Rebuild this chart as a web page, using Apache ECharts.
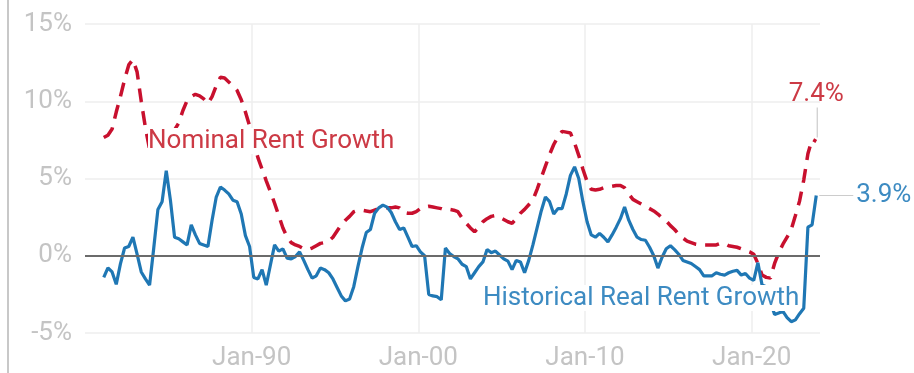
<!DOCTYPE html>
<html>
<head>
<meta charset="utf-8">
<script src="https://cdn.jsdelivr.net/npm/echarts@6/dist/echarts.min.js"></script>
<style>
  html, body { margin: 0; padding: 0; background: #fff; }
  #chart { width: 914px; height: 373px; }
</style>
</head>
<body>
<div id="chart"></div>
<script>
// Quarterly year-over-year rent growth, Q1 1981 – Q4 2023 (percent)
const firstYear = 1981;

const nominalRentGrowth = [
  7.65, 7.8, 8.2, 9.3, 10.3, 11.4, 12.35, 12.7, 11.9, 10.0,
  8.3, 6.9, 6.65, 7.0, 7.4, 7.7, 7.95, 8.15, 8.6, 9.4,
  10.05, 10.3, 10.45, 10.35, 10.15, 9.85, 10.3, 11.0, 11.55, 11.5,
  11.25, 11.0, 10.7, 10.1, 9.3, 8.4, 7.35, 6.35, 5.6, 4.85,
  4.15, 3.4, 2.6, 1.8, 1.2, 0.85, 0.7, 0.6, 0.45, 0.4,
  0.5, 0.65, 0.8, 0.85, 0.95, 1.2, 1.6, 2.0, 2.3, 2.55,
  2.85, 2.95, 2.95, 2.9, 2.85, 2.95, 3.05, 3.1, 3.1, 3.1,
  3.15, 3.1, 2.8, 2.75, 2.75, 2.85, 3.05, 3.15, 3.2, 3.15,
  3.1, 3.05, 2.95, 3.0, 2.95, 2.85, 2.45, 2.1, 1.8, 1.55,
  1.85, 2.2, 2.4, 2.55, 2.6, 2.5, 2.35, 2.2, 2.1, 2.4,
  2.75, 3.0, 3.3, 3.6, 4.3, 5.05, 5.8, 6.55, 7.2, 7.7,
  8.05, 8.0, 7.95, 7.3, 6.5, 5.6, 4.8, 4.3, 4.25, 4.3,
  4.4, 4.45, 4.5, 4.55, 4.55, 4.4, 4.0, 3.65, 3.5, 3.35,
  3.2, 3.05, 2.9, 2.7, 2.45, 2.25, 1.95, 1.7, 1.4, 1.15,
  0.95, 0.85, 0.75, 0.7, 0.7, 0.7, 0.7, 0.7, 0.8, 0.8,
  0.65, 0.6, 0.55, 0.45, 0.35, 0.25, 0.1, -0.5, -1.25, -1.4,
  -1.45, -0.5, 0.2, 0.75, 1.2, 1.7, 2.6, 3.55, 4.9, 6.6,
  7.55, 7.4
];

const realRentGrowth = [
  -1.4, -0.78, -1.05, -1.85, -0.53, 0.5, 0.6, 1.2, 0.1, -1.05,
  -1.5, -1.9, 0.5, 3.0, 3.5, 5.5, 3.6, 1.2, 1.1, 0.9,
  0.7, 2.0, 1.35, 0.8, 0.7, 0.6, 2.3, 3.8, 4.45, 4.25,
  4.0, 3.6, 3.5, 2.7, 1.3, 0.6, -1.4, -1.5, -0.9, -1.9,
  -0.6, 0.7, 0.3, 0.45, -0.15, -0.2, -0.05, 0.25, -0.3, -0.9,
  -1.45, -1.3, -0.8, -0.9, -1.1, -1.5, -2.05, -2.6, -2.92, -2.8,
  -2.0, -0.7, 0.5, 1.5, 1.7, 2.75, 3.1, 3.28, 3.15, 2.8,
  2.2, 1.7, 1.8, 1.2, 0.6, 0.65, 0.25, 0.0, -2.5, -2.6,
  -2.65, -2.85, 0.5, 0.15, -0.05, -0.2, -0.55, -0.7, -1.5, -1.1,
  -0.7, -0.4, 0.4, 0.2, 0.3, 0.05, -0.2, -0.35, -0.9, -0.3,
  -0.4, -1.1, -0.3, 0.7, 1.8, 2.9, 3.8, 3.5, 2.7, 3.05,
  3.05, 4.0, 5.2, 5.75, 5.0, 3.5, 2.2, 1.35, 1.2, 1.45,
  1.2, 0.9, 1.35, 1.85, 2.4, 3.15, 2.3, 1.7, 1.2, 1.05,
  1.0, 0.55, 0.0, -0.8, -0.1, 0.45, 0.65, 0.4, 0.1, -0.3,
  -0.4, -0.5, -0.7, -0.9, -1.3, -1.3, -1.3, -1.1, -1.2, -1.25,
  -1.1, -1.0, -0.95, -1.25, -1.15, -1.45, -1.6, -0.45, -1.9, -2.0,
  -3.0, -3.8, -3.7, -3.6, -4.0, -4.27, -4.15, -3.75, -3.4, 1.85,
  2.0, 3.9
];

const yTicks = [-5, 0, 5, 10, 15];
const seriesNames = ['Nominal Rent Growth', 'Historical Real Rent Growth'];

const RED = '#c8102e';
const BLUE = '#1f77b4';
const RED_TEXT = '#cc3a45';
const BLUE_TEXT = '#3d8bc2';
const LEADER = '#cccccc';
const FONT = 'Roboto, "Noto Sans", sans-serif';
const FONT_SIZE = 26;

// Quarter positions on a decimal-year axis (mid-quarter)
function quarterPosition(i) {
  const year = firstYear + Math.floor(i / 4);
  const q = (i % 4) + 1;
  return year + (q - 0.5) / 4;
}

function toPoints(values) {
  return values.map((v, i) => [quarterPosition(i), v]);
}

function withEndLabel(values, labelOpts) {
  const pts = toPoints(values);
  const last = pts.length - 1;
  return pts.map((p, i) => i === last ? { value: p, label: labelOpts } : p);
}

const nominalPts = toPoints(nominalRentGrowth);
const realPts = toPoints(realRentGrowth);
const nominalEnd = nominalPts[nominalPts.length - 1];
const realEnd = realPts[realPts.length - 1];

const chart = echarts.init(document.getElementById('chart'), null, { renderer: 'canvas' });

const baseGraphics = [
  {
    id: 'frame',
    type: 'rect',
    z: 100,
    shape: { x: 7, y: 0, width: 2, height: 373 },
    style: { fill: '#c8c8c8' }
  },
  {
    id: 'nominalName',
    type: 'text',
    z: 100,
    x: 148,
    y: 141,
    style: {
      text: seriesNames[0],
      fill: RED_TEXT,
      font: FONT_SIZE + 'px ' + FONT,
      verticalAlign: 'middle',
      backgroundColor: '#fff'
    }
  },
  {
    id: 'realName',
    type: 'text',
    z: 100,
    x: 483,
    y: 298,
    style: {
      text: seriesNames[1],
      fill: BLUE_TEXT,
      font: FONT_SIZE + 'px ' + FONT,
      verticalAlign: 'middle',
      backgroundColor: '#fff'
    }
  }
];

chart.setOption({
  animation: false,
  backgroundColor: '#fff',
  grid: { left: 85, right: 94, top: 24, bottom: 40, containLabel: false },
  xAxis: {
    type: 'value',
    min: 1980,
    max: 2024.1,
    interval: 10,
    axisLine: { show: false },
    axisTick: { show: false },
    axisLabel: {
      showMinLabel: false,
      showMaxLabel: false,
      color: '#c4c4c4',
      fontFamily: FONT,
      fontSize: FONT_SIZE,
      margin: 12,
      formatter: v => (v % 10 === 0 && v > 1980) ? 'Jan-' + String(v).slice(2) : ''
    },
    splitLine: {
      show: true,
      showMinLine: false,
      showMaxLine: false,
      lineStyle: { color: '#eeeeee', width: 1.5 }
    }
  },
  yAxis: {
    type: 'value',
    min: yTicks[0],
    max: yTicks[yTicks.length - 1],
    interval: 5,
    axisLine: { show: false },
    axisTick: { show: false },
    axisLabel: {
      color: '#c4c4c4',
      fontFamily: FONT,
      fontSize: FONT_SIZE,
      margin: 13,
      formatter: '{value}%'
    },
    splitLine: { lineStyle: { color: '#eeeeee', width: 1.5 } }
  },
  series: [
    {
      name: seriesNames[0],
      type: 'line',
      symbol: 'circle',
      symbolSize: 0,
      clip: false,
      z: 3,
      lineStyle: { color: RED, width: 3.5, type: [14, 9] },
      itemStyle: { color: RED },
      data: withEndLabel(nominalRentGrowth, {
        show: true,
        position: 'top',
        distance: 4,
        color: RED_TEXT,
        fontFamily: FONT,
        fontSize: FONT_SIZE,
        formatter: p => p.value[1].toFixed(1) + '%'
      }),
      labelLayout: { dy: -30 },
      markLine: {
        silent: true,
        symbol: 'none',
        label: { show: false },
        lineStyle: { color: '#6b6b6b', width: 2, type: 'solid' },
        data: [
          [{ yAxis: 0, x: 85 }, { yAxis: 0, x: 820 }]
        ]
      }
    },
    {
      name: seriesNames[1],
      type: 'line',
      symbol: 'circle',
      symbolSize: 0,
      clip: false,
      z: 4,
      lineStyle: { color: BLUE, width: 3.2 },
      itemStyle: { color: BLUE },
      data: withEndLabel(realRentGrowth, {
        show: true,
        position: 'right',
        distance: 4,
        color: BLUE_TEXT,
        fontFamily: FONT,
        fontSize: FONT_SIZE,
        formatter: p => p.value[1].toFixed(1) + '%'
      }),
      labelLayout: { dx: 36 }
    }
  ],
  graphic: { elements: baseGraphics }
});

// Leader lines joining each final point to its value label
const pNominal = chart.convertToPixel('grid', nominalEnd);
const pReal = chart.convertToPixel('grid', realEnd);
if (pNominal && pReal) {
  chart.setOption({
    graphic: {
      elements: baseGraphics.concat([
        {
          id: 'nominalLeader',
          type: 'line',
          z: 50,
          shape: { x1: pNominal[0] + 1, y1: pNominal[1] - 4, x2: pNominal[0] + 1, y2: pNominal[1] - 34 },
          style: { stroke: LEADER, lineWidth: 1.2 }
        },
        {
          id: 'realLeader',
          type: 'line',
          z: 50,
          shape: { x1: pReal[0] + 3, y1: pReal[1], x2: pReal[0] + 37, y2: pReal[1] },
          style: { stroke: LEADER, lineWidth: 1.2 }
        }
      ])
    }
  });
}
</script>
</body>
</html>
